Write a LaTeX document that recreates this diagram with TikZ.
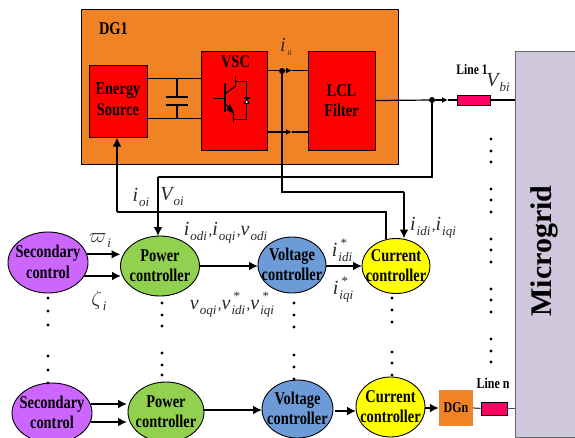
\documentclass[tikz,border=0pt]{standalone}
\usepackage{fontspec}
\setmainfont[FakeStretch=0.8]{Liberation Serif}
\newfontfamily\widefont{Liberation Serif}
\usetikzlibrary{shapes.geometric,arrows.meta}
\definecolor{dgorange}{HTML}{F08326}
\definecolor{mgfill}{HTML}{CFC7DC}
\definecolor{secfill}{HTML}{CC66FF}
\definecolor{powfill}{HTML}{92D050}
\definecolor{volfill}{HTML}{6D9BD8}
\definecolor{curfill}{HTML}{FFFF00}
\definecolor{linefill}{HTML}{FF0066}
\definecolor{labgray}{HTML}{2A2A2A}
\newcommand{\bl}[1]{\fontsize{18}{20.5}\selectfont\bfseries #1}
\newcommand{\two}[2]{\smash{\raisebox{-5.5pt}{\makebox[0pt]{\begin{tabular}{@{}c@{}}#1\\#2\end{tabular}}}}}
\newcommand{\bigi}[1]{{\widefont\fontsize{20}{20}\selectfont\itshape #1}}
\newcommand{\subi}[1]{\raisebox{-5pt}{\widefont\fontsize{13}{13}\selectfont\itshape #1}}
\newcommand{\vr}[2]{\bigi{#1}\hspace{1pt}\subi{#2}}
\newcommand{\vs}[2]{\bigi{#1}\hspace{1pt}\makebox[0pt][l]{\raisebox{9pt}{\widefont\fontsize{13}{13}\selectfont\,*}}\subi{#2}}
\newcommand{\cm}{\hspace{1.5pt}{\widefont\fontsize{15}{15}\selectfont ,}}
\tikzset{
  box/.style={draw=black,line width=1pt,fill=red,inner sep=0pt,align=center,font=\bl{}},
  elli/.style={ellipse,draw=black,line width=0.9pt,inner sep=0pt,outer sep=0pt,font=\bl{}},
  wire/.style={line width=1.2pt},
  thick wire/.style={line width=2pt},
  arr/.style={line width=2pt,-{Latex[length=9pt,width=9pt]}},
  smallarr/.style={line width=1.2pt,-{Latex[length=6pt,width=6pt]}},
  lab/.style={text=labgray,inner sep=0pt},
  txt/.style={inner sep=0pt,font=\bl{}},
  dotmark/.style={circle,fill=black,inner sep=0pt,minimum size=3.4pt},
  junction/.style={circle,fill=black,inner sep=0pt,minimum size=6pt},
}
\begin{document}
\begin{tikzpicture}[x=1pt,y=-1pt]
\clip (0,0) rectangle (575,437);
\fill[white] (0,0) rectangle (575,437);
% main boxes
\node[draw=black,line width=0.8pt,fill=dgorange,minimum width=317pt,minimum height=154.5pt,inner sep=0pt] (dg) at (239.5,87) {};
\node[box,minimum width=58pt,minimum height=72pt] (energy) at (118,101) {\raisebox{5pt}{\begin{tabular}{@{}c@{}}Energy\\Source\end{tabular}}};
\node[box,minimum width=66pt,minimum height=99pt] (vsc) at (234,100.5) {};
\node[box,minimum width=67pt,minimum height=99pt] (lcl) at (341.5,100.5) {LCL\\Filter};
\node[draw=black!60,line width=1pt,fill=mgfill,minimum width=70pt,minimum height=386pt,inner sep=0pt] (mg) at (550,244) {};
\node[rotate=90,inner sep=0pt] (mgtext) at (544,251) {\fontsize{30}{30}\selectfont\widefont\bfseries Microgrid};
\node[txt] (dgtext) at (113.5,28.5) {DG1};
\node[txt] (vsctext) at (235.5,62) {VSC};
% capacitor
\coordinate (capT) at (177,78.5);
\coordinate (capB) at (177,118.5);
\coordinate (capP1) at (177,97);
\coordinate (capP2) at (177,105);
\draw[wire] (energy.east |- capT) -- (capT) -- (vsc.west |- capT);
\draw[wire] (energy.east |- capB) -- (capB) -- (vsc.west |- capB);
\draw[wire] (capT) -- (capP1);
\draw[wire] (capP2) -- (capB);
\draw[line width=1.2pt] (166,97) -- (188,97);
\draw[line width=1.2pt] (166,105) -- (188,105);
% igbt
\begin{scope}[shift={(70,0)},x=0.3333pt,y=-0.3333pt,line width=1pt]
\draw[line width=1.3pt] (465,250) -- (465,336);
\draw (432,295) -- (465,295);
\draw (465,282) -- (497,258) -- (497,228);
\draw (497,245) -- (530,245) -- (530,358) -- (490,358);
\draw (465,310) -- (490,338) -- (490,368);
\draw[fill=black] (490,338) -- (472,330) -- (480,315) -- cycle;
\draw[fill=white] (523,310) -- (537,310) -- (530,297) -- cycle;
\draw[line width=1.4pt] (521,294) -- (539,294);
\end{scope}
% VSC to LCL
\coordinate (vscA) at (vsc.east |- 0,70.5);
\coordinate (vscB) at (vsc.east |- 0,132);
\coordinate (tipA) at (292,70.5);
\coordinate (tipB) at (292,132);
\node[junction] (jA) at (282,71) {};
\draw[smallarr] (vscA) -- (tipA);
\draw[wire] (tipA) -- (lcl.west |- tipA);
\draw[smallarr] (vscB) -- (tipB);
\draw[wire] (tipB) -- (lcl.west |- tipB);
% output line
\node[draw=black,line width=0.8pt,fill=linefill,minimum width=33pt,minimum height=10pt,inner sep=0pt] (line1) at (473.5,100) {};
\node[junction] (jB) at (432,100) {};
\coordinate (tipC) at (448,100);
\draw[wire] (lcl.east) -- (jB);
\draw[smallarr] (jB) -- (tipC);
\draw[wire] (tipC) -- (line1.west);
\draw[wire] (line1.east) -- (mg.west |- line1);
% ellipses
\node[elli,fill=secfill,minimum width=80pt,minimum height=61pt] (sec1) at (48,262.5) {\two{Secondary}{control}};
\node[elli,fill=powfill,minimum width=79pt,minimum height=60pt] (pow1) at (160,266) {\two{Power}{controller}};
\node[elli,fill=volfill,minimum width=68pt,minimum height=56pt] (vol1) at (292,265) {\two{Voltage}{controller}};
\node[elli,fill=curfill,minimum width=68pt,minimum height=55pt] (cur1) at (396,266) {\two{Current}{controller}};
\node[elli,fill=secfill,minimum width=80pt,minimum height=60pt] (sec2) at (52,413) {\two{Secondary}{control}};
\node[elli,fill=powfill,minimum width=76pt,minimum height=60pt] (pow2) at (166,412) {\two{Power}{controller}};
\node[elli,fill=volfill,minimum width=71pt,minimum height=58pt] (vol2) at (297.5,409) {\two{Voltage}{controller}};
\node[elli,fill=curfill,minimum width=69pt,minimum height=60pt] (cur2) at (390.5,407) {\two{Current}{controller}};
\node[fill=dgorange,minimum width=34pt,minimum height=36pt,inner sep=0pt,font=\fontsize{15}{15}\selectfont\bfseries] (dgn) at (456,408) {DGn};
\node[draw=black,line width=0.8pt,fill=linefill,minimum width=26pt,minimum height=13pt,inner sep=0pt] (linen) at (494,408.5) {};
% feedback wires
\coordinate (fa) at (117,212);
\coordinate (fb) at (386,212);
\coordinate (fc) at (158,177);
\coordinate (fd) at (432,177);
\coordinate (fe) at (282,191.5);
\coordinate (ff) at (404,191.5);
\draw[thick wire] (cur1.north -| fb) -- (fb) -- (fa);
\draw[arr] (fa) -- (fa |- energy.south);
\draw[thick wire] (jB) -- (fd) -- (fc);
\draw[arr] (fc) -- (fc |- pow1.north);
\draw[thick wire] (jA) -- (fe) -- (ff);
\draw[arr] (ff) -- (ff |- cur1.north);
% controller arrows
\draw[arr] (sec1.12) -- (pow1.west |- sec1.12);
\draw[arr] (84,276) -- (121,276);
\draw[arr] (pow1.east) -- (vol1.west |- pow1.east);
\draw[arr] (vol1.east |- cur1.west) -- (cur1.west);
\draw[arr] (91,404) -- (127,404);
\draw[arr] (91,422) -- (127,422);
\draw[arr] (203,410) -- (262,410);
\draw[arr] (335,411) -- (356,411);
\draw[arr] (cur2.east |- dgn.west) -- (dgn.west);
\draw[wire,black!70] (dgn.east) -- (linen.west);
\draw[wire,black!70] (linen.east) -- (mg.west |- linen);
% dots
\foreach \x/\ys in {48/{298,311,325,356,370,383},162/{303,315,326,353,365,375},294/{303,315,327,355,367,379},392/{298,310,322,352,363,375},491/{139,151,162,189,200,212,239,250,262,289,300,312,339,351,362}}{
  \foreach \y in \ys { \node[dotmark] at (\x,\y) {}; }
}
% labels
\node[lab] (liii) at (286,47) {\bigi{i}\,\raisebox{-4pt}{\widefont\fontsize{8}{8}\selectfont\itshape ii}};
\node[lab] (lioi) at (141,197) {\vr{i}{oi}};
\node[lab] (lvoi) at (172,197) {\vr{V}{oi}};
\node[lab] (lw) at (100,241) {\vr{$\varpi$}{i}};
\node[lab] (lz) at (99,301) {\vr{$\zeta$}{i}};
\node[lab] (lio) at (225.5,233) {\vr{i}{odi}\cm\vr{i}{oqi}\cm\vr{v}{odi}};
\node[lab] (lvo) at (232,305) {\vr{v}{oqi}\cm\vs{v}{idi}\cm\vs{v}{iqi}};
\node[lab] (lid) at (342,250) {\vs{i}{idi}};
\node[lab] (liq) at (343,290) {\vs{i}{iqi}};
\node[lab] (lidq) at (433,228) {\vr{i}{idi}\cm\vr{i}{iqi}};
\node[lab] (lvb) at (498,83) {\vr{V}{bi}};
\node[inner sep=0pt,font=\fontsize{14.5}{15}\selectfont\bfseries] (l1) at (472,70) {Line 1};
\node[inner sep=0pt,font=\fontsize{15}{15}\selectfont\bfseries] (ln) at (493,383) {Line n};
\end{tikzpicture}
\end{document}
